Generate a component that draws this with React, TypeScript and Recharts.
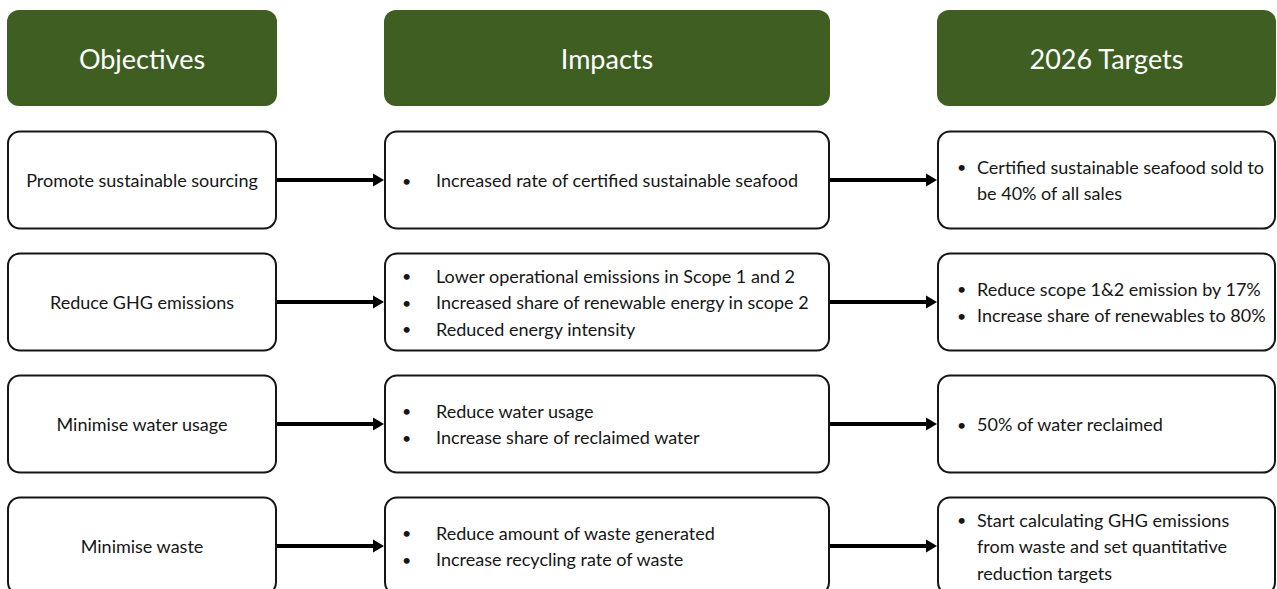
import { ScatterChart, Scatter, XAxis, YAxis } from 'recharts';

// ---- content ----
const HEADERS = ['Objectives', 'Impacts', '2026 Targets'];

const OBJECTIVES = [
  'Promote sustainable sourcing',
  'Reduce GHG emissions',
  'Minimise water usage',
  'Minimise waste',
];

const IMPACTS = [
  ['Increased rate of certified sustainable seafood'],
  [
    'Lower operational emissions in Scope 1 and 2',
    'Increased share of renewable energy in scope 2',
    'Reduced energy intensity',
  ],
  ['Reduce water usage', 'Increase share of reclaimed water'],
  ['Reduce amount of waste generated', 'Increase recycling rate of waste'],
];

// "\n" marks where a bullet wraps onto the next line
const TARGETS = [
  ['Certified sustainable seafood sold to\nbe 40% of all sales'],
  ['Reduce scope 1&2 emission by 17%', 'Increase share of renewables to 80%'],
  ['50% of water reclaimed'],
  ['Start calculating GHG emissions\nfrom waste and set quantitative\nreduction targets'],
];

// ---- layout ----
const W = 1277;
const H = 589;
const COL_WIDTHS = [270, 446, 339];
const GAP = 107;
const BOX_H = 97;
const HEADER_H = 96;
const RADIUS = 12;
const LINE_H = 26.5;
const FONT = 'Lato, "Open Sans", sans-serif';
const GREEN = '#3e5e22';
const INK = '#161616';

const colLeft = COL_WIDTHS.map((_, i) =>
  COL_WIDTHS.slice(0, i).reduce((a, b) => a + b, 0) + i * GAP
);
const TOTAL = colLeft[2] + COL_WIDTHS[2];

type Cell = {
  x: number;
  y: number;
  col: number;
  header?: string;
  bullets?: string[];
  plain?: string;
};

const headerCells: Cell[] = HEADERS.map((h, i) => ({
  x: colLeft[i] + COL_WIDTHS[i] / 2,
  y: 0,
  col: i,
  header: h,
}));

const bodyCells: Cell[] = [];
OBJECTIVES.forEach((o, r) => {
  bodyCells.push({ x: colLeft[0] + COL_WIDTHS[0] / 2, y: r + 1, col: 0, plain: o });
  bodyCells.push({ x: colLeft[1] + COL_WIDTHS[1] / 2, y: r + 1, col: 1, bullets: IMPACTS[r] });
  bodyCells.push({ x: colLeft[2] + COL_WIDTHS[2] / 2, y: r + 1, col: 2, bullets: TARGETS[r] });
});

const arrowCells = OBJECTIVES.flatMap((_, r) =>
  [0, 1].map((c) => ({ x: colLeft[c + 1] - GAP / 2, y: r + 1 }))
);

const BULLET_OFFSET = [0, 18, 20];
const TEXT_OFFSET = [0, 52, 40];

function BoxShape(props: any) {
  const { cx, cy, payload } = props;
  const c: Cell = payload;
  const w = COL_WIDTHS[c.col];
  const x0 = cx - w / 2;

  if (c.header) {
    return (
      <g>
        <rect x={x0} y={cy - HEADER_H / 2} width={w} height={HEADER_H} rx={RADIUS} fill={GREEN} />
        <text
          x={cx}
          y={cy}
          textAnchor="middle"
          dominantBaseline="central"
          fill="#ffffff"
          fontFamily={FONT}
          fontSize={27}
        >
          {c.header}
        </text>
      </g>
    );
  }

  const rect = (
    <rect
      x={x0 + 1}
      y={cy - BOX_H / 2}
      width={w - 2}
      height={BOX_H}
      rx={RADIUS}
      fill="#ffffff"
      stroke={INK}
      strokeWidth={2}
    />
  );

  if (c.plain) {
    return (
      <g>
        {rect}
        <text x={cx} y={cy} textAnchor="middle" dominantBaseline="central" fill={INK} fontFamily={FONT} fontSize={18}>
          {c.plain}
        </text>
      </g>
    );
  }

  const lines: { text: string; bullet: boolean }[] = [];
  (c.bullets || []).forEach((b) => {
    b.split('\n').forEach((t, i) => lines.push({ text: t, bullet: i === 0 }));
  });
  const top = cy - ((lines.length - 1) * LINE_H) / 2;

  return (
    <g>
      {rect}
      {lines.map((l, i) => (
        <g key={i}>
          {l.bullet && (
            <text x={x0 + BULLET_OFFSET[c.col]} y={top + i * LINE_H} dominantBaseline="central" fill={INK} fontFamily={FONT} fontSize={16}>
              •
            </text>
          )}
          <text x={x0 + TEXT_OFFSET[c.col]} y={top + i * LINE_H} dominantBaseline="central" fill={INK} fontFamily={FONT} fontSize={18}>
            {l.text}
          </text>
        </g>
      ))}
    </g>
  );
}

function ArrowShape(props: any) {
  const { cx, cy } = props;
  const start = cx - GAP / 2;
  const tip = cx + GAP / 2;
  const head = 11;
  return (
    <g>
      <line x1={start} y1={cy} x2={tip - head + 1} y2={cy} stroke="#000" strokeWidth={4} />
      <polygon points={`${tip},${cy} ${tip - head},${cy - 6.5} ${tip - head},${cy + 6.5}`} fill="#000" />
    </g>
  );
}

export default function App() {
  return (
    <div style={{ position: 'absolute', left: 0, top: 0, width: W, height: H, background: '#fff' }}>
      <ScatterChart width={W} height={H} margin={{ top: 58, bottom: 43, left: 7, right: W - 7 - TOTAL }}>
        <XAxis type="number" dataKey="x" domain={[0, TOTAL]} hide />
        <YAxis type="number" dataKey="y" domain={[0, 4]} reversed hide />
        <Scatter data={arrowCells} shape={ArrowShape} isAnimationActive={false} />
        <Scatter data={headerCells} shape={BoxShape} isAnimationActive={false} />
        <Scatter data={bodyCells} shape={BoxShape} isAnimationActive={false} />
      </ScatterChart>
    </div>
  );
}
